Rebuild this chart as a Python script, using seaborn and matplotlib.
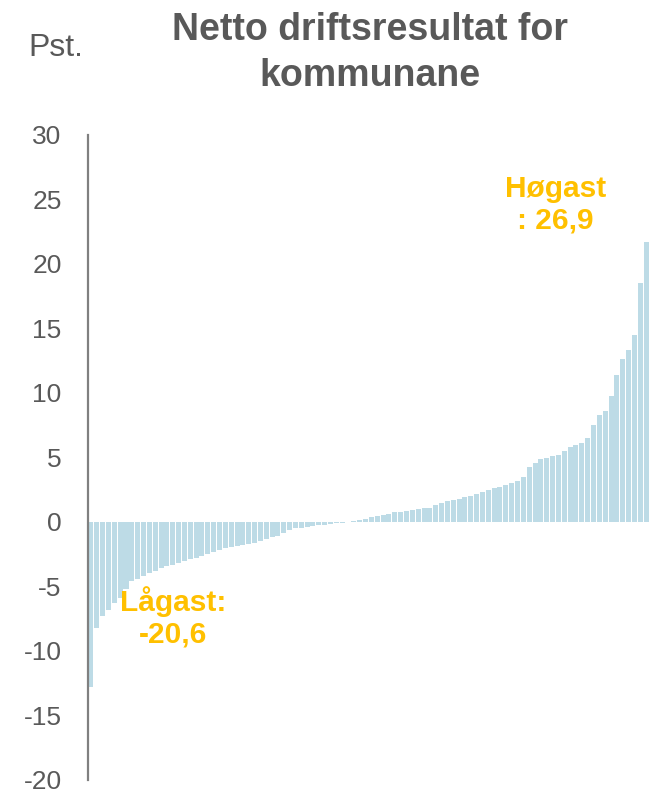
import numpy as np
import pandas as pd
import seaborn as sns
import matplotlib.pyplot as plt

# netto driftsresultat, sorted, one bar per group of kommunar (pst.)
resultat = [
    -12.8, -8.2, -7.3, -6.8, -6.3, -5.9, -5.2, -4.6, -4.4, -4.15,
    -3.95, -3.8, -3.6, -3.45, -3.3, -3.2, -3.05, -2.9, -2.8, -2.65,
    -2.5, -2.35, -2.2, -2.05, -1.95, -1.9, -1.8, -1.7, -1.6, -1.5,
    -1.35, -1.2, -1.05, -0.85, -0.6, -0.5, -0.45, -0.38, -0.32, -0.25,
    -0.2, -0.15, -0.1, -0.05, -0.01, 0.08, 0.15, 0.25, 0.35, 0.45,
    0.55, 0.65, 0.75, 0.8, 0.85, 0.95, 1.0, 1.05, 1.1, 1.3,
    1.45, 1.6, 1.7, 1.75, 1.9, 2.0, 2.15, 2.3, 2.5, 2.6,
    2.75, 2.9, 3.05, 3.2, 3.5, 4.3, 4.6, 4.85, 4.95, 5.1,
    5.2, 5.5, 5.85, 6.0, 6.1, 6.5, 7.5, 8.3, 8.6, 9.8,
    11.4, 12.6, 13.3, 14.5, 18.5, 21.7,
]
yticks = [-20, -15, -10, -5, 0, 5, 10, 15, 20, 25, 30]
title = "Netto driftsresultat for\nkommunane"
lagast = "Lågast:\n-20,6"
hogast = "Høgast\n: 26,9"

df = pd.DataFrame({"nr": np.arange(len(resultat)), "verdi": resultat})

sns.set_style("white")
plt.rcParams["font.family"] = ["Liberation Sans", "DejaVu Sans"]
plt.rcParams["axes.unicode_minus"] = False

grey = "#595959"
gold = "#FFC000"

fig = plt.figure(figsize=(6.49, 7.93), dpi=100)
ax = fig.add_axes([0.1356, 0.0164, 0.8644, 0.8134])

sns.barplot(data=df, x="nr", y="verdi", color="#BDDBE6", saturation=1,
            width=0.86, linewidth=0, ax=ax, errorbar=None)

ax.set_xlim(-0.5, len(resultat) - 0.5)
ax.set_ylim(-20, 30)
ax.set_yticks(yticks)
ax.set_xticks([])
ax.set_xlabel("")
ax.set_ylabel("")
ax.tick_params(axis="y", length=0, pad=19, labelsize=19, labelcolor=grey)
for lbl in ax.get_yticklabels():
    lbl.set_verticalalignment("center_baseline")
for s in ["top", "right", "bottom"]:
    ax.spines[s].set_visible(False)
ax.spines["left"].set_color("#808080")
ax.spines["left"].set_linewidth(1.6)

fig.text(0.57, 0.933, title, ha="center", va="center", fontsize=27,
         fontweight="bold", color=grey, linespacing=1.35)
fig.text(0.043, 0.939, "Pst.", ha="left", va="center", fontsize=23, color=grey)

ax.text(14, -7.4, lagast, ha="center", va="center", fontsize=21.5,
        fontweight="bold", color=gold, linespacing=1.15)
ax.text(79.5, 24.6, hogast, ha="center", va="center", fontsize=21.5,
        fontweight="bold", color=gold, linespacing=1.15)

fig.savefig("out.png", dpi=100)
